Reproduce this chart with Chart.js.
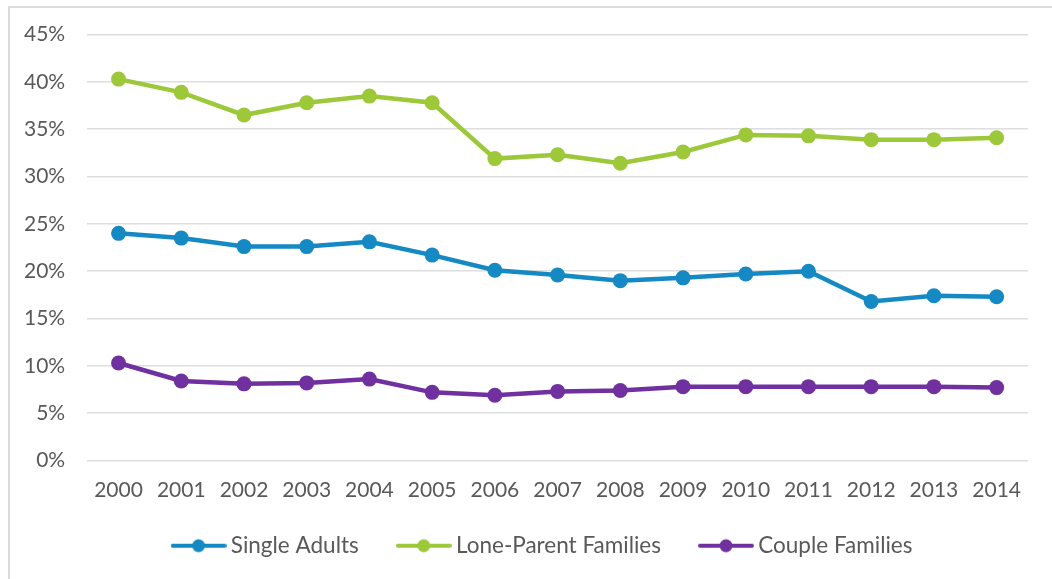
<!DOCTYPE html>
<html>
<head>
<meta charset="utf-8">
<script src="https://cdn.jsdelivr.net/npm/chart.js@4"></script>
<style>
  body { margin: 0; background: #fff; overflow: hidden; }
  #frame {
    position: absolute; left: 8px; top: 6px;
    width: 1100px; height: 620px;
    border-left: 2px solid #dcdcdc; border-top: 2px solid #dcdcdc;
  }
  #chart { position: absolute; left: -8px; top: -8px; }
</style>
</head>
<body>
<div id="frame"><canvas id="chart" width="1050" height="579"></canvas></div>
<script>
const years = ['2000', '2001', '2002', '2003', '2004', '2005', '2006', '2007',
  '2008', '2009', '2010', '2011', '2012', '2013', '2014'];

const singleAdults = [24.0, 23.5, 22.6, 22.6, 23.1, 21.7, 20.1, 19.6, 19.0, 19.3, 19.7, 20.0, 16.8, 17.4, 17.3];
const loneParent = [40.3, 38.9, 36.5, 37.8, 38.5, 37.8, 31.9, 32.3, 31.4, 32.6, 34.4, 34.3, 33.9, 33.9, 34.1];
const couples = [10.3, 8.4, 8.1, 8.2, 8.6, 7.2, 6.9, 7.3, 7.4, 7.8, 7.8, 7.8, 7.8, 7.8, 7.7];

const yTicks = [0, 5, 10, 15, 20, 25, 30, 35, 40, 45];

const blue = '#1589c3';
const green = '#9cc83a';
const purple = '#7030a0';
const grey = '#595959';

// legend marker: short line with a dot in the middle
function legendMark(color) {
  const c = document.createElement('canvas');
  c.width = 56; c.height = 16;
  const g = c.getContext('2d');
  g.strokeStyle = color;
  g.lineWidth = 4;
  g.lineCap = 'round';
  g.beginPath(); g.moveTo(2, 8); g.lineTo(54, 8); g.stroke();
  g.fillStyle = color;
  g.beginPath(); g.arc(28, 8, 6.5, 0, Math.PI * 2); g.fill();
  return c;
}

function series(label, data, color) {
  return {
    label: label,
    data: data,
    borderColor: color,
    backgroundColor: color,
    borderWidth: 4.5,
    pointRadius: 7.5,
    pointHoverRadius: 7.5,
    pointBackgroundColor: color,
    pointBorderWidth: 0,
    tension: 0,
    marker: legendMark(color)
  };
}

// nudge the legend a bit, like in the original picture
const legendNudge = {
  id: 'legendNudge',
  afterLayout(ch) {
    const lg = ch.legend;
    lg.left += 30; lg.right += 30;
    lg.top -= 12; lg.bottom -= 12;
  }
};

const chart = new Chart(document.getElementById('chart'), {
  type: 'line',
  data: {
    labels: years,
    datasets: [
      series('Single Adults', singleAdults, blue),
      series('Lone-Parent Families', loneParent, green),
      series('Couple Families', couples, purple)
    ]
  },
  plugins: [legendNudge],
  options: {
    responsive: false,
    animation: false,
    layout: { padding: { left: 0, right: 24, top: 0, bottom: 0 } },
    plugins: {
      tooltip: { enabled: false },
      legend: {
        position: 'bottom',
        labels: {
          usePointStyle: true,
          pointStyleWidth: 42,
          padding: 44,
          color: grey,
          font: { family: 'Lato', size: 22.5 },
          generateLabels(ch) {
            const items = Chart.defaults.plugins.legend.labels.generateLabels(ch);
            items.forEach(it => { it.pointStyle = ch.data.datasets[it.datasetIndex].marker; });
            return items;
          }
        }
      }
    },
    scales: {
      x: {
        offset: true,
        grid: { display: false, drawTicks: false },
        border: { display: false },
        ticks: { color: grey, font: { family: 'Lato', size: 21 }, padding: 17, maxRotation: 0 },
        afterFit(s) { s.height = 42; }
      },
      y: {
        min: 0,
        max: 45,
        afterBuildTicks(s) { s.ticks = yTicks.map(v => ({ value: v })); },
        grid: { color: '#dedede', lineWidth: 1.6, drawTicks: false },
        border: { display: false },
        ticks: {
          color: grey,
          font: { family: 'Lato', size: 21 },
          padding: 22,
          callback: v => v + '%'
        }
      }
    }
  }
});
</script>
</body>
</html>
